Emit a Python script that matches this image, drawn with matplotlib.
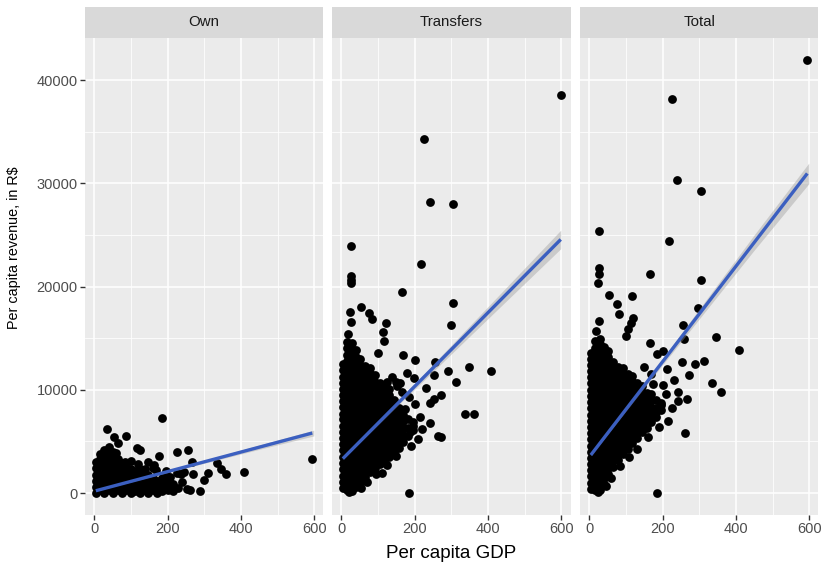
import numpy as np
import matplotlib
matplotlib.use("Agg")
import matplotlib.pyplot as plt

plt.rcParams['font.family'] = ['Liberation Sans', 'DejaVu Sans']

# ---------------- data ----------------
panels = ["Own", "Transfers", "Total"]
x_ticks = [0, 200, 400, 600]
x_minor = [100, 300, 500]
y_ticks = [0, 10000, 20000, 30000, 40000]
y_minor = [5000, 15000, 25000, 35000]

# dense core of each cloud, by column: x value and the y values in it
own_core_x = [5, 16, 28, 40, 52, 64, 76, 88, 100, 112, 124, 136, 148, 160, 172, 184]
own_core_y = [
    [0, 600, 1200, 1790, 2410, 3000],
    [300, 890, 1500, 2110, 2690, 3300, 3800],
    [0, 610, 1190, 1800, 2410, 2990, 3600, 4200],
    [300, 900, 1510, 2090, 2700, 3310, 3890, 4450],
    [0, 590, 1200, 1810, 2390, 3000, 3600, 4000],
    [300, 910, 1490, 2100, 2710, 3300],
    [0, 600, 1210, 1790, 2400, 2900],
    [300, 890, 1500, 2110, 2650],
    [0, 610, 1190, 1800, 2350],
    [300, 900, 1510, 2100],
    [0, 590, 1200, 1810, 2300],
    [300, 910, 1490, 1900],
    [0, 600, 1210, 1750],
    [300, 890, 1450],
    [0, 610, 1150],
    [250, 850, 1500],
]
own_out_x = [36, 185, 66, 55, 86, 85, 118, 125, 178, 225, 257, 266, 225, 207, 237, 246, 269,
             228, 253, 262, 289, 298, 310, 335, 345, 359, 407, 594, 185, 112, 148, 162, 203,
             194, 140, 190, 200, 215, 240, 170, 195, 160, 120, 100, 60, 200, 215]
own_out_y = [6160, 7230, 4810, 5450, 5550, 3030, 4320, 4160, 3610, 3970, 4160, 3030, 1900, 1580,
             1840, 2000, 1840, 450, 355, 290, 225, 1260, 1900, 2940, 2320, 1800, 2000, 3290, 190,
             160, 3030, 2710, 1260, 1580, 2300, 800, 300, 900, 1100, 2200, 2100, 2400, 2800,
             3100, 3900, 700, 200]

trans_core_x = [5, 17, 29, 41, 53, 66, 79, 92, 105, 118, 131, 144, 157, 170, 183, 196]
trans_core_y = [
    [520, 1100, 1680, 2310, 2900, 3480, 4120, 4700, 5290, 5910, 6480, 7120, 7690, 8300, 8920,
     9480, 10110, 10700, 11280, 11920, 12480],
    [280, 820, 1400, 2010, 2590, 3200, 3810, 4390, 5000, 5610, 6190, 6800, 7410, 7990, 8600,
     9210, 9790, 10400, 11010, 11590, 12200, 12810, 13390, 14000, 14620],
    [200, 800, 1390, 2000, 2610, 3190, 3800, 4410, 4990, 5600, 6210, 6790, 7400, 8010, 8590,
     9200, 9810, 10390, 11000, 11610, 12190, 12800, 13410, 13990, 14500],
    [620, 1210, 1790, 2400, 3010, 3590, 4200, 4810, 5390, 6000, 6610, 7190, 7800, 8410, 8990,
     9600, 10210, 10790, 11400, 12010, 12590, 13200, 13810],
    [1000, 1590, 2200, 2810, 3390, 4000, 4610, 5190, 5800, 6410, 6990, 7600, 8210, 8790, 9400,
     10010, 10590, 11200, 11810, 12390, 13000],
    [1510, 2090, 2700, 3310, 3890, 4500, 5110, 5690, 6300, 6910, 7490, 8100, 8710, 9290, 9900,
     10510, 11090, 11700, 12310],
    [1990, 2600, 3210, 3790, 4400, 5010, 5590, 6200, 6810, 7390, 8000, 8610, 9190, 9800, 10410,
     10990, 11600, 12100],
    [2410, 2990, 3600, 4210, 4790, 5400, 6010, 6590, 7200, 7810, 8390, 9000, 9610, 10190, 10800,
     11400],
    [2800, 3410, 3990, 4600, 5210, 5790, 6400, 7010, 7590, 8200, 8810, 9390, 10000, 10610],
    [3110, 3690, 4300, 4910, 5490, 6100, 6710, 7290, 7900, 8510, 9090, 9700, 10310],
    [3500, 4110, 4690, 5300, 5910, 6490, 7100, 7710, 8290, 8900, 9510, 10100],
    [3950, 4600, 5250, 5800, 6500, 7050, 7700, 8350, 9000],
    [4350, 5000, 5700, 6250, 6900, 7600, 8200],
    [4900, 5600, 6300, 7000, 7600],
    [5500, 6300, 7200],
    [6100, 6900],
]
trans_out_x = [598, 226, 241, 304, 27, 218, 27, 27, 26, 167, 304, 298, 55, 24, 75, 84, 27, 122,
               113, 118, 18, 102, 168, 202, 257, 347, 409, 291, 179, 252, 199, 314, 126, 232,
               152, 273, 252, 243, 337, 361, 175, 243, 197, 170, 188, 263, 272, 111, 186, 23,
               38, 161, 140, 150, 165, 185, 200, 215, 210, 190, 150, 125, 95, 70, 55, 220]
trans_out_y = [38530, 34270, 28200, 27950, 23940, 22170, 21000, 20620, 20300, 19490, 18360,
               16260, 17980, 17500, 17400, 16810, 16550, 16430, 15560, 14710, 15420, 13580,
               13330, 12840, 12650, 12170, 11840, 11810, 11650, 11460, 11160, 10740, 10710,
               10130, 10360, 9490, 9100, 8740, 7680, 7680, 8100, 6740, 6490, 6430, 5940, 5520,
               5390, 1900, 0, 50, 700, 10620, 11200, 10800, 9800, 9300, 8600, 7400, 5200, 4600,
               3600, 2700, 1800, 1100, 500, 6200]

total_core_x = [5, 17, 29, 41, 53, 66, 79, 92, 105, 118, 131, 144, 157, 170, 183, 196]
total_core_y = [
    [420, 1010, 1600, 2190, 2800, 3410, 3990, 4600, 5210, 5790, 6400, 7010, 7590, 8200, 8810,
     9390, 10000, 10610, 11190, 11800, 12410, 12990, 13600],
    [300, 900, 1490, 2100, 2710, 3290, 3900, 4510, 5090, 5700, 6310, 6890, 7500, 8110, 8690,
     9300, 9910, 10490, 11100, 11710, 12290, 12900, 13510, 14090, 14700],
    [280, 700, 1190, 1800, 2410, 2990, 3600, 4210, 4790, 5400, 6010, 6590, 7200, 7810, 8390,
     9000, 9610, 10190, 10800, 11410, 11990, 12600, 13210, 13790, 14400, 14950],
    [900, 1500, 2110, 2690, 3300, 3910, 4490, 5100, 5710, 6290, 6900, 7510, 8090, 8700, 9310,
     9890, 10500, 11110, 11690, 12300, 12910, 13490, 14100],
    [1800, 2390, 3000, 3610, 4190, 4800, 5410, 5990, 6600, 7210, 7790, 8400, 9010, 9590, 10200,
     10810, 11390, 12000, 12610, 13190, 13800],
    [2500, 3110, 3690, 4300, 4910, 5490, 6100, 6710, 7290, 7900, 8510, 9090, 9700, 10310, 10890,
     11500, 12110, 12690],
    [3200, 3790, 4400, 5010, 5590, 6200, 6810, 7390, 8000, 8610, 9190, 9800, 10410, 10990, 11600,
     12200],
    [3800, 4410, 4990, 5600, 6210, 6790, 7400, 8010, 8590, 9200, 9810, 10390, 11000, 11610,
     12100],
    [4300, 4890, 5500, 6110, 6690, 7300, 7910, 8490, 9100, 9710, 10290, 10900, 11500],
    [4800, 5410, 5990, 6600, 7210, 7790, 8400, 9010, 9590, 10200, 10810, 11300],
    [5300, 5890, 6500, 7110, 7690, 8300, 8910, 9490, 10100, 10700],
    [5900, 6600, 7250, 7850, 8500, 9150, 9800, 10400],
    [6300, 7000, 7700, 8350, 9000, 9700],
    [6900, 7600, 8300, 9000, 9600],
    [7400, 8200, 9000],
    [8000, 8700],
]
total_out_x = [594, 226, 240, 304, 27, 217, 26, 27, 165, 305, 25, 55, 118, 76, 82, 121, 297, 26,
               114, 107, 19, 101, 257, 259, 346, 407, 166, 201, 185, 312, 289, 253, 212, 271,
               230, 335, 358, 241, 267, 241, 174, 196, 166, 183, 260, 185, 25, 36, 150, 170,
               200, 210, 225, 215, 190, 160, 130, 110, 85, 60, 45]
total_out_y = [41950, 38200, 30270, 29230, 25330, 24390, 21810, 21170, 21170, 20620, 20300,
               19170, 19100, 18300, 17330, 16970, 17880, 16680, 16430, 15880, 15710, 15230,
               16260, 14910, 15100, 13840, 14490, 13780, 13460, 12810, 12460, 12680, 11970,
               11420, 10940, 10620, 9750, 9750, 9100, 8940, 10520, 8490, 7710, 7870, 5780, 0,
               50, 935, 12200, 11500, 10500, 9600, 8200, 7000, 6400, 5400, 4300, 3500, 2600,
               1500, 700]

# fitted lines (end points) and half-width of the confidence band
own_fit_x = [5, 594]
own_fit_y = [220, 5810]
trans_fit_x = [5, 598]
trans_fit_y = [3330, 24560]
total_fit_x = [5, 594]
total_fit_y = [3680, 30950]
band_x = [5, 150, 300, 450, 598]
own_band_hw = [30, 70, 140, 210, 280]
trans_band_hw = [60, 200, 430, 660, 900]
total_band_hw = [70, 220, 480, 740, 1000]

# ---------------- drawing ----------------
W, H = 828, 563
fig = plt.figure(figsize=(W / 100, H / 100), dpi=100)

panel_left = [85, 332, 580]
panel_w = 238.5
panel_top, panel_bot = 38, 515
strip_top = 7

PANEL_BG = "#EBEBEB"
STRIP_BG = "#D9D9D9"
LINE_C = "#3B5FC0"

datasets = [
    (own_core_x, own_core_y, own_out_x, own_out_y, own_fit_x, own_fit_y, own_band_hw),
    (trans_core_x, trans_core_y, trans_out_x, trans_out_y, trans_fit_x, trans_fit_y, trans_band_hw),
    (total_core_x, total_core_y, total_out_x, total_out_y, total_fit_x, total_fit_y, total_band_hw),
]

for i, (name, d) in enumerate(zip(panels, datasets)):
    cx, cy, ox, oy, fx, fy, hw = d
    px, py = [], []
    for x, ys in zip(cx, cy):
        px += [x] * len(ys)
        py += ys
    px += ox
    py += oy

    ax = fig.add_axes([panel_left[i] / W, 1 - panel_bot / H, panel_w / W,
                       (panel_bot - panel_top) / H])
    ax.set_facecolor(PANEL_BG)
    for s in ax.spines.values():
        s.set_visible(False)
    ax.set_xlim(-24.5, 624.5)
    ax.set_ylim(-2130, 44070)
    ax.set_xticks(x_ticks)
    ax.set_xticks(x_minor, minor=True)
    ax.set_yticks(y_ticks)
    ax.set_yticks(y_minor, minor=True)
    ax.grid(which="major", color="white", lw=1.1)
    ax.grid(which="minor", color="white", lw=0.55)
    ax.set_axisbelow(True)
    ax.tick_params(which="minor", length=0)
    ax.tick_params(which="major", length=3.6, width=1.0, color="#333333",
                   labelcolor="#4D4D4D", labelsize=10.5, pad=1.6)
    ax.set_xticklabels([str(v) for v in x_ticks])
    if i == 0:
        ax.set_yticklabels([str(v) for v in y_ticks])
    else:
        ax.tick_params(axis="y", left=False, labelleft=False)

    ax.scatter(px, py, s=40, c="black", linewidths=0, zorder=2)

    line_at_band = np.interp(band_x, fx, fy)
    ax.fill_between(band_x, line_at_band - np.array(hw), line_at_band + np.array(hw),
                    color="#999999", alpha=0.4, linewidth=0, zorder=3)
    ax.plot(fx, fy, color=LINE_C, lw=2.4, solid_capstyle="butt", zorder=4)

    sax = fig.add_axes([panel_left[i] / W, 1 - panel_top / H, panel_w / W,
                        (panel_top - strip_top) / H])
    sax.set_facecolor(STRIP_BG)
    sax.set_xticks([])
    sax.set_yticks([])
    for s in sax.spines.values():
        s.set_visible(False)
    sax.text(0.5, 0.5, name, ha="center", va="center", fontsize=10.8,
             color="#1A1A1A", transform=sax.transAxes)

fig.text(451 / W, 1 - 558 / H, "Per capita GDP", ha="center", va="baseline",
         fontsize=13.5, color="black")
fig.text(14 / W, 1 - 248 / H, "Per capita revenue, in R$", ha="center", va="center",
         rotation=90, fontsize=10.4, color="black")

fig.savefig("out.png", dpi=100)
